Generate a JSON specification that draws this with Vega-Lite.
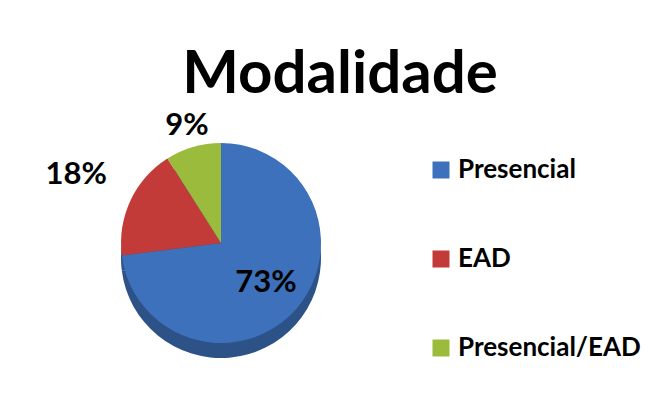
{
  "$schema": "https://vega.github.io/schema/vega-lite/v6.json",
  "autosize": {"type": "none"},
  "padding": {"left": 11, "top": 157, "right": 223, "bottom": 83},
  "width": 420,
  "height": 172,
  "background": "white",
  "title": {
    "text": "Modalidade",
    "font": "Lato",
    "fontSize": 60,
    "fontWeight": "bold",
    "color": "#000000",
    "anchor": "middle",
    "frame": "group",
    "dx": 119,
    "offset": -33
  },
  "data": {
    "values": [
      {"modalidade": "Presencial", "percentual": 0.73, "ordem": 1},
      {"modalidade": "EAD", "percentual": 0.18, "ordem": 2},
      {"modalidade": "Presencial/EAD", "percentual": 0.09, "ordem": 3}
    ]
  },
  "encoding": {
    "theta": {"field": "percentual", "type": "quantitative", "stack": true},
    "order": {"field": "ordem", "type": "quantitative"}
  },
  "layer": [
    {
      "mark": {"type": "arc", "radius": 100, "yOffset": 15, "fill": "#2C5287"},
      "encoding": {}
    },
    {
      "mark": {"type": "arc", "radius": 100},
      "encoding": {
        "color": {
          "field": "modalidade",
          "type": "nominal",
          "scale": {
            "domain": ["Presencial", "EAD", "Presencial/EAD"],
            "range": ["#3D71BB", "#C23B38", "#9BBB3C"]
          },
          "legend": {
            "title": null,
            "orient": "right",
            "offset": -3,
            "symbolType": "square",
            "symbolSize": 289,
            "symbolStrokeWidth": 0,
            "labelFont": "Lato",
            "labelFontSize": 26,
            "labelFontWeight": "bold",
            "labelColor": "#000000",
            "labelOffset": 4,
            "rowPadding": 63,
            "labelLimit": 300
          }
        }
      }
    },
    {
      "mark": {"type": "text", "radius": 60, "font": "Lato", "fontSize": 31, "fontWeight": "bold", "color": "#000000"},
      "encoding": {
        "text": {
          "condition": {"test": "datum.modalidade == 'Presencial'", "field": "percentual", "type": "quantitative", "format": ".0%"},
          "value": ""
        }
      }
    },
    {
      "mark": {"type": "text", "radius": 160, "font": "Lato", "fontSize": 31, "fontWeight": "bold", "color": "#000000"},
      "encoding": {
        "text": {
          "condition": {"test": "datum.modalidade == 'EAD'", "field": "percentual", "type": "quantitative", "format": ".0%"},
          "value": ""
        }
      }
    },
    {
      "mark": {"type": "text", "radius": 122, "font": "Lato", "fontSize": 31, "fontWeight": "bold", "color": "#000000"},
      "encoding": {
        "text": {
          "condition": {"test": "datum.modalidade == 'Presencial/EAD'", "field": "percentual", "type": "quantitative", "format": ".0%"},
          "value": ""
        }
      }
    }
  ],
  "config": {"view": {"stroke": null}}
}
